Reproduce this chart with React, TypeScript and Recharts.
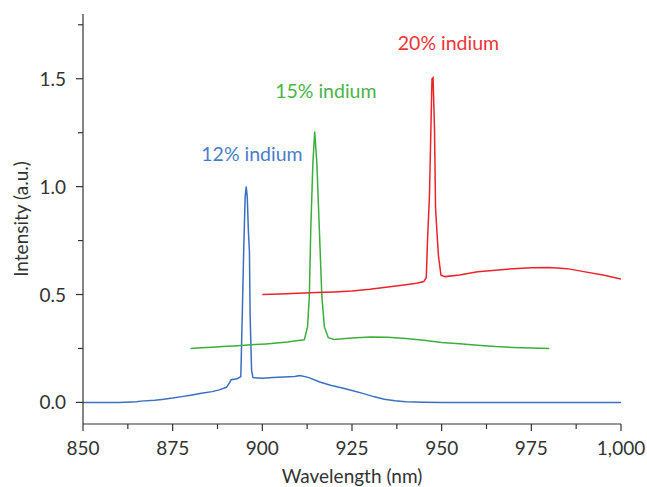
import React from 'react';
import { LineChart, Line, XAxis, YAxis, ReferenceDot, Label } from 'recharts';

// 12% indium spectrum
const wl12 = [850, 855, 860, 865, 866, 870, 872, 875, 878, 880, 883, 886, 888, 890, 890.8, 891.3, 893, 894.0, 894.4, 894.8, 895.2, 895.5, 895.8, 896.1, 896.4, 896.6, 897.0, 897.4, 900, 903, 906, 909, 910.5, 913, 916, 919, 922, 925, 928, 931, 934, 937, 940, 945, 950, 960, 1000];
const int12 = [0.0, 0.0, 0.0, 0.003, 0.006, 0.01, 0.014, 0.02, 0.028, 0.033, 0.042, 0.05, 0.058, 0.07, 0.09, 0.105, 0.11, 0.12, 0.4, 0.7, 0.95, 1.0, 0.95, 0.8, 0.7, 0.4, 0.15, 0.115, 0.112, 0.115, 0.118, 0.12, 0.125, 0.115, 0.095, 0.08, 0.068, 0.055, 0.042, 0.027, 0.015, 0.008, 0.003, 0.001, 0.0, 0.0, 0.0];

// 15% indium spectrum
const wl15 = [880, 883, 886, 889, 892, 895, 898, 901, 904, 907, 910, 911.7, 912.6, 913.1, 913.5, 914.1, 914.6, 915.2, 915.9, 916.6, 917.3, 918.4, 920, 925, 930, 935, 940, 945, 950, 955, 960, 965, 970, 975, 980];
const int15 = [0.25, 0.253, 0.256, 0.259, 0.262, 0.265, 0.268, 0.271, 0.275, 0.28, 0.287, 0.29, 0.35, 0.49, 0.8, 1.11, 1.255, 1.11, 0.8, 0.49, 0.35, 0.3, 0.292, 0.298, 0.303, 0.302, 0.296, 0.288, 0.278, 0.272, 0.265, 0.259, 0.255, 0.252, 0.25];

// 20% indium spectrum
const wl20 = [900, 905, 910, 915, 920, 925, 930, 935, 940, 943, 945, 945.7, 946.1, 946.6, 947.0, 947.3, 947.6, 948.0, 948.3, 948.65, 949.1, 949.8, 951, 955, 960, 965, 970, 975, 980, 985, 990, 995, 1000];
const int20 = [0.5, 0.503, 0.506, 0.509, 0.512, 0.516, 0.524, 0.535, 0.545, 0.552, 0.56, 0.578, 0.77, 0.96, 1.27, 1.5, 1.505, 1.27, 0.9, 0.8, 0.68, 0.59, 0.583, 0.59, 0.605, 0.613, 0.62, 0.624, 0.625, 0.62, 0.605, 0.59, 0.572];

const xMajorTicks = [850, 875, 900, 925, 950, 975, 1000];
const xMinorTicks = [862.5, 887.5, 912.5, 937.5, 962.5, 987.5];
const yMajorTicks = [0, 0.5, 1.0, 1.5];
const yMinorTicks = [0.25, 0.75, 1.25, 1.75];

const seriesNames = ['12% indium', '15% indium', '20% indium'];
const labelX = [897.1, 917.7, 951.9];
const labelY = [1.15, 1.441, 1.665];

const lineColors = ['#3b6fc1', '#3cae3c', '#ea2429'];
const textColors = ['#4a7dc9', '#48b448', '#ee3338'];
const AXIS = '#333';
const TEXT = '#333';
const FONT = 'Lato, sans-serif';

const toPoints = (xs: number[], ys: number[]) => xs.map((x, i) => ({ x, y: ys[i] }));
const series = [toPoints(wl12, int12), toPoints(wl15, int15), toPoints(wl20, int20)];

const XTick = ({ x, y, payload }: any) => {
  const major = xMajorTicks.includes(payload.value);
  return (
    <g>
      <line x1={x} x2={x} y1={y} y2={y + (major ? 7 : 5)} stroke={AXIS} strokeWidth={1.2} />
      {major && (
        <text x={x} y={y + 31} textAnchor="middle" fontFamily={FONT} fontSize={19} fill={TEXT}>
          {payload.value.toLocaleString('en-US')}
        </text>
      )}
    </g>
  );
};

const YTick = ({ x, y, payload }: any) => {
  const major = yMajorTicks.includes(payload.value);
  return (
    <g>
      <line x1={x - (major ? 7 : 5)} x2={x} y1={y} y2={y} stroke={AXIS} strokeWidth={1.2} />
      {major && (
        <text x={x - 17} y={y + 7} textAnchor="end" fontFamily={FONT} fontSize={19} fill={TEXT}>
          {payload.value.toFixed(1)}
        </text>
      )}
    </g>
  );
};

export default function App() {
  return (
    <div style={{ position: 'absolute', left: 0, top: 0, background: '#fff' }}>
      <LineChart width={647} height={487} margin={{ top: 14, right: 26, bottom: 0, left: 0 }}>
        <XAxis
          type="number"
          dataKey="x"
          domain={[850, 1000]}
          allowDataOverflow
          ticks={[...xMajorTicks, ...xMinorTicks]}
          interval={0}
          tickSize={0}
          tickMargin={0}
          tickLine={false}
          tick={<XTick />}
          height={63}
          axisLine={{ stroke: AXIS, strokeWidth: 1.2 }}
        >
          <Label
            content={({ viewBox }: any) => (
              <text x={viewBox.x + viewBox.width / 2} y={483} textAnchor="middle" fontFamily={FONT} fontSize={19} fill={TEXT}>
                Wavelength (nm)
              </text>
            )}
          />
        </XAxis>
        <XAxis xAxisId="top" orientation="top" type="number" domain={[850, 1000]} height={0} tick={false} tickLine={false} axisLine={{ stroke: AXIS, strokeWidth: 1.2 }} />
        <YAxis
          type="number"
          domain={[-0.1, 1.8]}
          allowDataOverflow
          ticks={[...yMajorTicks, ...yMinorTicks]}
          interval={0}
          tickSize={0}
          tickMargin={0}
          tickLine={false}
          tick={<YTick />}
          width={83}
          axisLine={{ stroke: AXIS, strokeWidth: 1.2 }}
        >
          <Label
            content={({ viewBox }: any) => {
              const cx = 20;
              const cy = viewBox.y + viewBox.height / 2;
              return (
                <text x={cx} y={cy} transform={`rotate(-90, ${cx}, ${cy})`} textAnchor="middle" dominantBaseline="central" fontFamily={FONT} fontSize={19} fill={TEXT}>
                  Intensity (a.u.)
                </text>
              );
            }}
          />
        </YAxis>
        <YAxis yAxisId="right" orientation="right" type="number" domain={[-0.1, 1.8]} width={0} tick={false} tickLine={false} axisLine={{ stroke: AXIS, strokeWidth: 1.2 }} />
        {series.map((d, i) => (
          <Line
            key={seriesNames[i]}
            data={d}
            dataKey="y"
            type="linear"
            stroke={lineColors[i]}
            strokeWidth={1.5}
            dot={false}
            activeDot={false}
            isAnimationActive={false}
          />
        ))}
        {seriesNames.map((name, i) => (
          <ReferenceDot
            key={name}
            x={labelX[i]}
            y={labelY[i]}
            r={0}
            stroke="none"
            fill="none"
            label={{ value: name, position: 'center', fill: textColors[i], fontSize: 19.5, fontFamily: FONT }}
          />
        ))}
      </LineChart>
    </div>
  );
}
